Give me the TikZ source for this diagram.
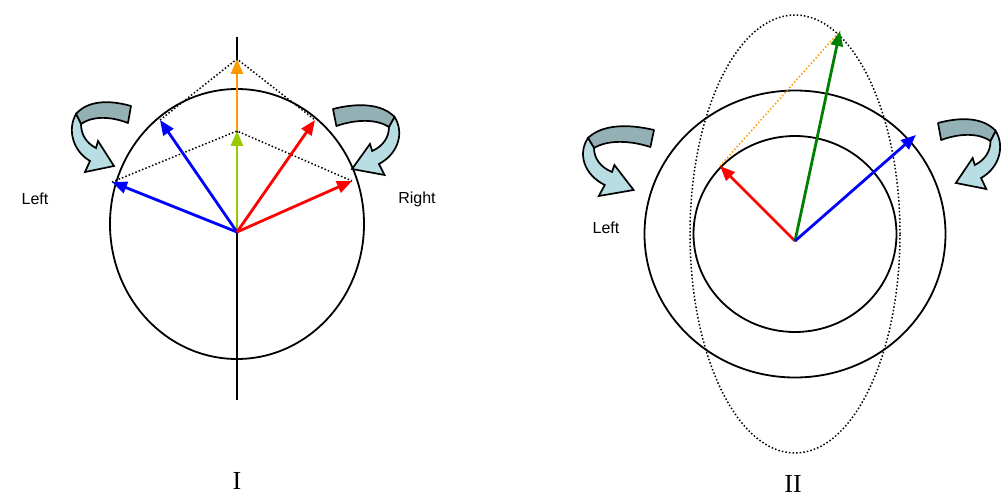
\documentclass[tikz,border=0pt]{standalone}
\usepackage{fontspec}
\setmainfont{Liberation Serif}
\newfontfamily\arialf{Liberation Sans}
\usetikzlibrary{arrows.meta}
\definecolor{vblue}{RGB}{0,0,255}
\definecolor{vred}{RGB}{255,0,0}
\definecolor{vorange}{RGB}{255,153,0}
\definecolor{vlime}{RGB}{153,204,0}
\definecolor{vgreen}{RGB}{0,128,0}
\definecolor{bandback}{RGB}{147,176,181}
\definecolor{bandfront}{RGB}{184,222,228}
\begin{document}
\begin{tikzpicture}[x=1pt,y=-1pt,
  vec/.style={line width=2.8pt,-{Triangle[length=15pt,width=12pt]}},
  ring/.style={line width=1.8pt},
  dots/.style={line width=1.5pt,dash pattern=on 1.5pt off 2.1pt},
  lbl/.style={font=\arialf\fontsize{16}{18}\selectfont,inner sep=0pt},
  roman/.style={font=\fontsize{26}{30}\selectfont,inner sep=0pt},
  twist/.pic={
    \filldraw[fill=bandback,draw=black,line width=1.7pt,line join=round]
      (0,0) .. controls (-21,-6) and (-43,-6) .. (-55,8) -- (-50,18)
      .. controls (-39,10) and (-21,10) .. (-3,17) -- cycle;
    \filldraw[fill=bandfront,draw=black,line width=1.7pt,line join=miter]
      (-55,8) .. controls (-64,24) and (-58,45) .. (-41,55) -- (-46,66)
      -- (-17,60) -- (-33,35) -- (-35,42)
      .. controls (-45,37) and (-50,28) .. (-50,18) -- cycle;
  }]
\useasboundingbox (0,0) rectangle (1002,497);
\begin{scope}
\clip (0,0) rectangle (1002,497);
% ---------- Figure I ----------
\draw[ring] (237,224) ellipse [x radius=127pt, y radius=135pt];
\coordinate (axT) at (237,37);
\coordinate (axB) at (237,400);
\draw[ring] (axT) -- (axB);
\coordinate (O1) at (237,232);
\coordinate (or1) at (237,59);
\coordinate (gr1) at (237,131);
\coordinate (bu1) at (160,120);
\coordinate (bl1) at (112,182);
\coordinate (ru1) at (315,120);
\coordinate (rl1) at (352,181);
\draw[dots] (bu1) -- (or1) -- (ru1);
\draw[dots] (bl1) -- (gr1) -- (rl1);
\draw[vec,vorange] (gr1) -- (or1);
\draw[vec,vlime] (O1) -- (gr1);
\draw[vec,vblue] (O1) -- (bu1);
\draw[vec,vblue] (O1) -- (bl1);
\draw[vec,vred] (O1) -- (ru1);
\draw[vec,vred] (O1) -- (rl1);
\pic at (131,106) {twist};
\pic[xscale=-1.12] at (333,109) {twist};
\node[lbl] (lft1) at (35,199) {Left};
\node[lbl] (rgt1) at (417,199) {Right};
\node[roman] (n1) at (237,481) {I};
% ---------- Figure II ----------
\draw[ring] (795,234) ellipse [x radius=150.5pt, y radius=143.5pt];
\draw[ring] (795,234) ellipse [x radius=101.5pt, y radius=98pt];
\draw[dots] (795,234) ellipse [x radius=105pt, y radius=219pt];
\coordinate (O2) at (795,241);
\coordinate (r2) at (720,166);
\coordinate (g2) at (840,31);
\coordinate (b2) at (916,135);
\draw[dots,vorange] (r2) -- (g2);
\draw[vec,vred] (O2) -- (r2);
\draw[vec,vgreen] (O2) -- (g2);
\draw[vec,vblue] (O2) -- (b2);
\pic[xscale=1.2] at (654,130) {twist};
\pic[xscale=-1.05] at (938,123) {twist};
\node[lbl] (lft2) at (606,228) {Left};
\node[roman] (n2) at (793,484) {II};
\end{scope}
\end{tikzpicture}
\end{document}
